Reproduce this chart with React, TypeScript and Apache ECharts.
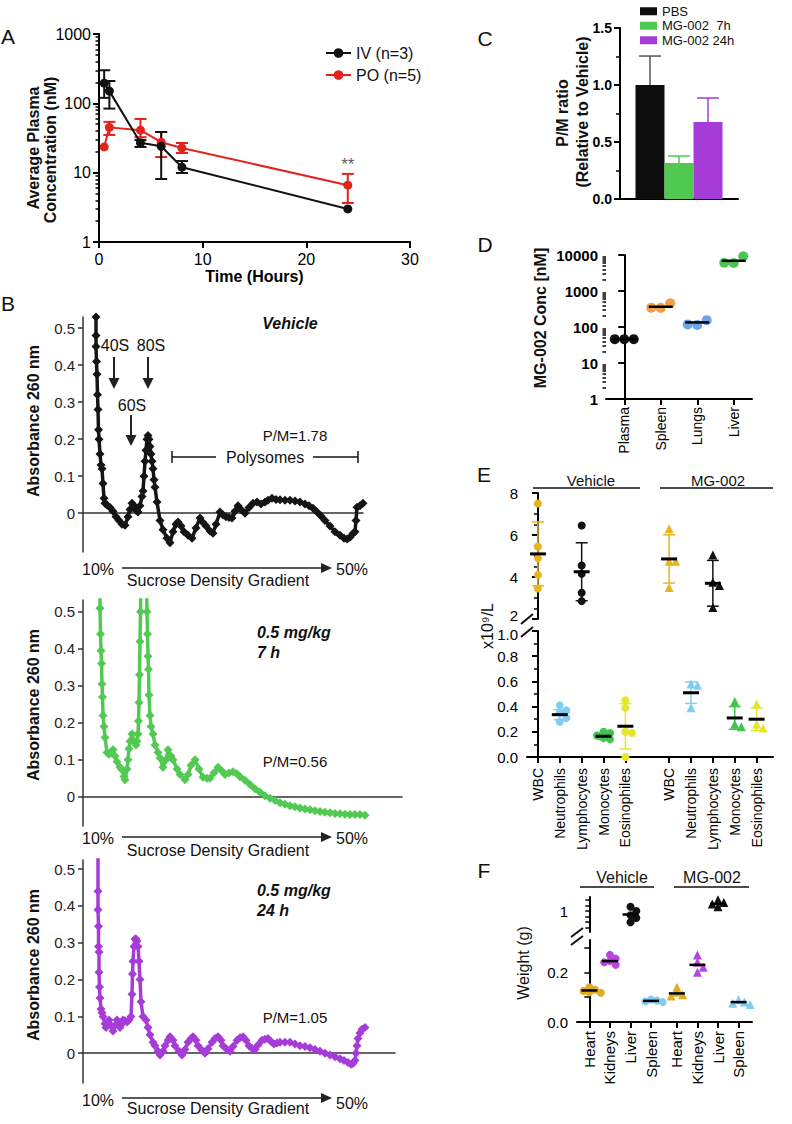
import React, { useEffect, useRef } from "react";
import * as echarts from "echarts";

const FONT = "'Liberation Sans', Arial, Helvetica, sans-serif";
const RED = "#e3231b";
const INK = "#111111";

// ---------- Panel A: plasma PK ----------
const pkTime = [0.5, 1, 4, 6, 8, 24];
const ivMean = [195, 150, 27, 24, 12, 3.0];
const ivLow = [120, 84, 23.5, 8.1, 9.9, 3.0];
const ivHigh = [300, 210, 29.5, 38.6, 14.7, 3.0];
const poMean = [23.5, 45, 41, 27.5, 22.7, 6.6];
const poLow = [23.5, 35, 32.5, 16.8, 19.2, 3.65];
const poHigh = [23.5, 54, 59.5, 38.6, 26.8, 9.6];
const poSignificance = ["", "", "", "", "", "**"];

// ---------- Panel C: P/M ratio ----------
const pmGroups = ["PBS", "MG-002  7h", "MG-002 24h"];
const pmValues = [1.0, 0.316, 0.675];
const pmUpper = [1.254, 0.377, 0.886];

// ---------- Panel D: tissue concentration ----------
const tissues = ["Plasma", "Spleen", "Lungs", "Liver"];
const tissueConc = [
  [46, 46, 46],
  [340, 455, 345],
  [114, 155, 118],
  [6000, 9200, 6100],
];
const tissueMean = [46, 365, 134, 6900];

// ---------- Panel E: blood counts ----------
const cbcCells = ["WBC", "Neutrophils", "Lymphocytes", "Monocytes", "Eosinophiles"];
const cbcGroups = ["Vehicle", "MG-002"];
const cbcVehicle = [
  [7.5, 5.45, 4.9, 4.1, 3.45],
  [0.41, 0.37, 0.35, 0.31, 0.28],
  [6.45, 4.55, 4.15, 3.25, 2.85],
  [0.2, 0.19, 0.17, 0.15, 0.14],
  [0.45, 0.39, 0.2, 0.19, 0.0],
];
const cbcVehicleMean = [5.1, 0.336, 4.25, 0.165, 0.244];
const cbcVehicleSd = [1.52, 0.04, 1.38, 0.025, 0.18];
const cbcMg = [
  [6.3, 4.75, 4.75, 3.5],
  [0.58, 0.57, 0.39],
  [5.05, 3.75, 3.6, 2.55],
  [0.44, 0.26, 0.24],
  [0.42, 0.26, 0.23],
];
const cbcMgMean = [4.86, 0.51, 3.7, 0.31, 0.3];
const cbcMgSd = [1.15, 0.085, 1.09, 0.09, 0.09];
const cbcUpperTicks = [2, 4, 6, 8];
const cbcLowerTicks = [0, 0.2, 0.4, 0.6, 0.8, 1.0];

// ---------- Panel F: organ weights ----------
const organs = ["Heart", "Kidneys", "Liver", "Spleen"];
const organVehicle = [
  [0.14, 0.13, 0.125, 0.12, 0.118],
  [0.27, 0.255, 0.245, 0.24, 0.23],
  [1.03, 1.0, 0.97, 0.95, 0.92],
  [0.09, 0.086, 0.083, 0.08],
];
const organVehicleMean = [0.127, 0.245, 0.975, 0.085];
const organMg = [
  [0.14, 0.12, 0.11, 0.105],
  [0.27, 0.24, 0.22, 0.2],
  [1.08, 1.06, 1.05, 1.03],
  [0.09, 0.08, 0.075, 0.07],
];
const organMgMean = [0.115, 0.23, 1.05, 0.08];

// ---------- Panel B: polysome profiles (position along gradient, A260) ----------
const profileVehicle = [
  [13, 0.53], [13, 0.48], [13, 0.45], [13.5, 0.41], [14, 0.375], [14.5, 0.32], [15, 0.28], [15.5, 0.225],
  [16, 0.2], [17, 0.16], [18, 0.13], [19, 0.12], [20, 0.08], [21, 0.04], [22, 0.027], [24, 0.022],
  [27, 0.015], [30, 0.005], [33, -0.01], [36, -0.02], [39, -0.03], [42, -0.033], [45, -0.01], [47, 0.01],
  [49, 0.027], [51, 0.02], [53, 0.008], [55, 0.003], [57, 0.02], [59, 0.045], [60, 0.06], [61, 0.1],
  [62, 0.14], [63, 0.17], [64, 0.2], [65, 0.21], [66, 0.2], [67, 0.18], [68, 0.16], [69, 0.14],
  [70, 0.12], [71, 0.09], [72, 0.07], [74, 0.03], [77, -0.02], [80, -0.045], [84, -0.068], [87, -0.08],
  [90, -0.05], [93, -0.03], [95, -0.024], [98, -0.035], [101, -0.05], [105, -0.06], [109, -0.068], [113, -0.04],
  [117, -0.013], [120, -0.025], [123, -0.035], [127, -0.048], [130, -0.054], [133, -0.03], [137, 0.003], [140, -0.005],
  [143, -0.01], [146, -0.012], [149, -0.013], [152, 0.005], [155, 0.02], [158, 0.01], [162, 0.0], [166, 0.015],
  [170, 0.027], [174, 0.03], [178, 0.025], [182, 0.03], [185, 0.035], [189, 0.04], [193, 0.037], [197, 0.036],
  [202, 0.035], [207, 0.035], [212, 0.033], [217, 0.03], [222, 0.025], [226, 0.02], [230, 0.013], [234, 0.003],
  [238, -0.008], [242, -0.02], [247, -0.035], [252, -0.05], [257, -0.06], [261, -0.068], [264, -0.07], [267, -0.065],
  [270, -0.055], [272, -0.05], [273, -0.02], [274, 0.016], [277, 0.02], [280, 0.027],
];
const profile7h = [
  [17, 0.62], [17, 0.51], [17.5, 0.44], [18, 0.395], [18.5, 0.36], [19, 0.305], [19.5, 0.27], [20, 0.22],
  [21, 0.19], [22, 0.16], [24, 0.12], [26, 0.115], [28, 0.12], [30, 0.127], [32, 0.11], [34, 0.095],
  [37, 0.08], [39, 0.073], [41, 0.055], [42, 0.046], [44, 0.075], [45, 0.1], [46, 0.13], [47, 0.15],
  [49, 0.17], [51, 0.15], [53, 0.14], [54, 0.15], [55, 0.17], [55.5, 0.205], [56, 0.255], [56.5, 0.33],
  [57, 0.42], [57.5, 0.5], [58, 0.62], [63, 0.62], [64, 0.5], [64.5, 0.44], [65, 0.38], [65.5, 0.345],
  [66, 0.275], [67, 0.22], [68, 0.19], [70, 0.17], [72, 0.14], [75, 0.12], [77, 0.105], [80, 0.08],
  [83, 0.1], [85, 0.127], [88, 0.11], [90, 0.1], [94, 0.075], [97, 0.06], [102, 0.046], [105, 0.06],
  [108, 0.085], [112, 0.1], [116, 0.075], [120, 0.053], [124, 0.05], [127, 0.05], [131, 0.065], [135, 0.08],
  [139, 0.07], [142, 0.06], [146, 0.064], [150, 0.068], [154, 0.062], [157, 0.054], [162, 0.045], [167, 0.033],
  [172, 0.022], [177, 0.012], [182, 0.003], [187, -0.004], [192, -0.01], [197, -0.016], [202, -0.02], [207, -0.024],
  [212, -0.027], [217, -0.03], [222, -0.033], [227, -0.035], [232, -0.038], [237, -0.04], [242, -0.042], [247, -0.043],
  [252, -0.045], [257, -0.046], [262, -0.047], [267, -0.048], [272, -0.048], [277, -0.048], [282, -0.05],
];
const profile24h = [
  [15, 0.6], [15, 0.44], [15, 0.39], [15.5, 0.345], [15.5, 0.29], [16, 0.275], [16, 0.22], [16.5, 0.18],
  [17, 0.15], [18, 0.12], [19, 0.11], [20, 0.1], [22, 0.08], [23, 0.07], [25, 0.085], [26, 0.09],
  [28, 0.075], [30, 0.06], [32, 0.075], [34, 0.09], [36, 0.08], [37, 0.07], [39, 0.08], [40, 0.09],
  [42, 0.088], [44, 0.085], [46, 0.09], [48, 0.1], [49, 0.16], [49.5, 0.215], [50, 0.25], [51, 0.29],
  [52, 0.31], [53, 0.31], [54, 0.305], [55, 0.29], [56, 0.25], [57, 0.2], [58, 0.14], [60, 0.1],
  [63, 0.09], [65, 0.07], [67, 0.05], [70, 0.03], [72, 0.02], [75, 0.005], [77, -0.005], [80, 0.005],
  [82, 0.02], [85, 0.035], [87, 0.045], [90, 0.035], [92, 0.02], [96, 0.005], [99, -0.005], [102, 0.01],
  [105, 0.03], [108, 0.04], [110, 0.045], [113, 0.035], [115, 0.02], [119, 0.008], [122, 0.0], [125, 0.012],
  [129, 0.03], [132, 0.04], [135, 0.045], [138, 0.035], [140, 0.02], [144, 0.01], [147, 0.005], [150, 0.018],
  [154, 0.035], [157, 0.042], [160, 0.045], [163, 0.035], [166, 0.02], [169, 0.013], [172, 0.01], [175, 0.022],
  [179, 0.035], [182, 0.038], [185, 0.04], [188, 0.032], [191, 0.025], [194, 0.028], [197, 0.03], [202, 0.03],
  [207, 0.03], [212, 0.025], [217, 0.02], [222, 0.018], [227, 0.015], [232, 0.01], [237, 0.005], [242, 0.0],
  [247, -0.005], [252, -0.01], [257, -0.015], [261, -0.02], [265, -0.025], [268, -0.03], [270, -0.028], [272, -0.02],
  [273, 0.0], [274, 0.02], [275, 0.04], [277, 0.055], [279, 0.065], [282, 0.07],
];
const absTicks = [0, 0.1, 0.2, 0.3, 0.4, 0.5];

// ---------- colours ----------
const pmColors = ["#0d0d0d", "#4fc94f", "#a63cd8"];
const pmErrColors = ["#555555", "#4fc94f", "#a63cd8"];
const tissueColors = ["#111111", "#f0a048", "#6ea4ee", "#4cc552"];
const cbcColors = ["#e8b520", "#7fcdf0", "#111111", "#3ec54e", "#e5e52c"];
const organColors = ["#e0ac24", "#b447dc", "#111111", "#7fcdf0"];

const lg = (v: number) => Math.log10(v);
const minorLog = (from: number, to: number) => {
  const r: number[] = [];
  for (let d = from; d < to; d++) for (let k = 2; k <= 9; k++) r.push(Math.log10(k) + d);
  return r;
};
const pow10Label = (v: number) => String(Math.round(Math.pow(10, v)));

function swarm(vals: number[], thr: number, step: number): number[] {
  const offs: number[] = [];
  vals.forEach((v, i) => {
    const cands = [0, 1, -1, 2, -2, 3, -3];
    for (const c of cands) {
      const o = c * step;
      const clash = offs.some((oj, j) => Math.abs(vals[j] - v) < thr && Math.abs(oj - o) < step * 0.9);
      if (!clash) {
        offs.push(o);
        return;
      }
    }
    offs.push(0);
  });
  return offs;
}

function errSeries(xi: number, yi: number, data: number[][], color: string, cap: number, width: number, pxOffset = 0, lowCap = true) {
  return {
    type: "custom",
    xAxisIndex: xi,
    yAxisIndex: yi,
    data: data.filter((d) => d[1] !== d[2]),
    z: 3,
    silent: true,
    renderItem: (params: any, api: any) => {
      const x = api.value(0);
      const a = api.coord([x, api.value(1)]);
      const b = api.coord([x, api.value(2)]);
      const X = a[0] + pxOffset;
      const st = { stroke: color, lineWidth: width };
      const children: any[] = [
        { type: "line", shape: { x1: X, y1: a[1], x2: X, y2: b[1] }, style: st },
        { type: "line", shape: { x1: X - cap, y1: b[1], x2: X + cap, y2: b[1] }, style: st },
      ];
      if (lowCap) children.push({ type: "line", shape: { x1: X - cap, y1: a[1], x2: X + cap, y2: a[1] }, style: st });
      return { type: "group", children };
    },
  };
}

function txt(text: string, x: number, y: number, style: any = {}, rotation = 0) {
  return {
    type: "text",
    x,
    y,
    rotation,
    z: 100,
    silent: true,
    style: { text, fontFamily: FONT, fontSize: 16, fill: "#111", align: "center", verticalAlign: "middle", ...style },
  };
}
function ln(x1: number, y1: number, x2: number, y2: number, w = 1.5, color = "#111") {
  return { type: "line", z: 100, silent: true, shape: { x1, y1, x2, y2 }, style: { stroke: color, lineWidth: w } };
}
function arrowDown(x: number, y1: number, y2: number) {
  return [
    ln(x, y1, x, y2 - 8, 2, "#222"),
    { type: "polygon", z: 100, silent: true, shape: { points: [[x - 5.5, y2 - 11], [x + 5.5, y2 - 11], [x, y2]] }, style: { fill: "#222" } },
  ];
}
function arrowRight(x1: number, x2: number, y: number) {
  return [
    ln(x1, y, x2 - 8, y, 1.5, "#222"),
    { type: "polygon", z: 100, silent: true, shape: { points: [[x2 - 11, y - 5], [x2 - 11, y + 5], [x2, y]] }, style: { fill: "#222" } },
  ];
}

function buildOption() {
  const grid = [
    { left: 99, top: 34, width: 311, height: 208 }, // 0 A
    { left: 620, top: 28, width: 118, height: 171 }, // 1 C
    { left: 606, top: 255, width: 146, height: 144 }, // 2 D
    { left: 527, top: 493, width: 246, height: 126 }, // 3 E upper
    { left: 527, top: 631, width: 246, height: 126 }, // 4 E lower
    { left: 577, top: 897, width: 175, height: 35 }, // 5 F upper
    { left: 577, top: 940, width: 175, height: 82 }, // 6 F lower
    { left: 83, top: 317, width: 280, height: 235 }, // 7 B vehicle
    { left: 83, top: 600, width: 319, height: 226 }, // 8 B 7h
    { left: 83, top: 860, width: 312, height: 223 }, // 9 B 24h
  ].map((g) => ({ ...g, containLabel: false, outerBoundsMode: "none" }));

  const line2 = { show: true, lineStyle: { color: "#000", width: 2 } };
  const tick = (len = 6, w = 2) => ({ show: true, length: len, lineStyle: { color: "#000", width: w } });
  const noSplit = { show: false };

  const cbcPos: number[] = [];
  const cbcNames: string[] = [];
  cbcGroups.forEach((g, gi) => cbcCells.forEach((c, ci) => { cbcPos.push(gi * (cbcCells.length + 1) + ci); cbcNames.push(c); }));
  const orgPos: number[] = [];
  const orgNames: string[] = [];
  cbcGroups.forEach((g, gi) => organs.forEach((o, oi) => { orgPos.push(gi * (organs.length + 0.25) + oi); orgNames.push(o); }));
  const nameAt = (pos: number[], names: string[]) => (v: number) => {
    const k = pos.findIndex((p) => Math.abs(p - v) < 1e-6);
    return k >= 0 ? names[k] : "";
  };

  const xAxis: any[] = [
    { // 0 A
      type: "value", gridIndex: 0, min: 0, max: 30, interval: 10, splitLine: noSplit,
      axisLine: line2, axisTick: tick(6), axisLabel: { color: "#000", fontSize: 16, fontFamily: FONT, margin: 9 },
      name: "Time (Hours)", nameLocation: "middle", nameGap: 26,
      nameTextStyle: { fontWeight: "bold", fontSize: 16, color: "#000", fontFamily: FONT },
    },
    { // 1 C
      type: "category", gridIndex: 1, data: [""], axisLine: line2, axisTick: { show: false }, axisLabel: { show: false },
    },
    { // 2 D category
      type: "category", gridIndex: 2, data: tissues, axisLine: line2, axisTick: { ...tick(6), alignWithLabel: true },
      axisLabel: { rotate: 90, color: "#000", fontSize: 14, fontFamily: FONT, margin: 8 },
    },
    { type: "value", gridIndex: 2, min: -0.5, max: 3.5, show: false }, // 3 D values
    { type: "value", gridIndex: 3, min: -0.5, max: 10.75, show: false }, // 4 E up
    { // 5 E low
      type: "value", gridIndex: 4, min: -0.5, max: 10.75, splitLine: noSplit, axisLine: line2,
      axisTick: { ...tick(6), customValues: cbcPos },
      axisLabel: { customValues: cbcPos, formatter: nameAt(cbcPos, cbcNames), rotate: 90, color: "#000", fontSize: 14, fontFamily: FONT, margin: 11 },
    },
    { type: "value", gridIndex: 5, min: -0.6, max: 7.9, show: false }, // 6 F up
    { // 7 F low
      type: "value", gridIndex: 6, min: -0.6, max: 7.9, splitLine: noSplit, axisLine: line2,
      axisTick: { ...tick(6), customValues: orgPos },
      axisLabel: { customValues: orgPos, formatter: nameAt(orgPos, orgNames), rotate: 90, color: "#000", fontSize: 15, fontFamily: FONT, margin: 9 },
    },
    ...[[7, 280], [8, 319], [9, 312]].map(([gi, mx]) => ({
      type: "value", gridIndex: gi, min: 0, max: mx, splitLine: noSplit,
      axisLine: { show: true, lineStyle: { color: "#333", width: 1.5 } }, axisTick: { show: false }, axisLabel: { show: false },
    })),
  ];

  const absAxis = (gi: number, mn: number, mx: number) => ({
    type: "value", gridIndex: gi, min: mn, max: mx, splitLine: noSplit,
    axisLine: { show: true, lineStyle: { color: "#333", width: 1.5 } },
    axisTick: { show: true, length: 5, customValues: absTicks, lineStyle: { color: "#333", width: 1.5 } },
    axisLabel: { customValues: absTicks, formatter: (v: number) => (Math.abs(v) < 1e-9 ? "0" : v.toFixed(1)), color: "#222", fontSize: 15, fontFamily: FONT, margin: 8 },
  });

  const yAxis: any[] = [
    { // 0 A main
      type: "value", gridIndex: 0, position: "left", min: 0, max: 3, interval: 1, splitLine: noSplit,
      axisLine: line2, axisTick: tick(6), axisLabel: { formatter: pow10Label, color: "#000", fontSize: 16, fontFamily: FONT, margin: 8 },
    },
    { // 1 A minor
      type: "value", gridIndex: 0, position: "left", min: 0, max: 3, splitLine: noSplit, axisLine: { show: false },
      axisTick: { show: true, length: 3.5, customValues: minorLog(0, 3), lineStyle: { color: "#000", width: 1.5 } }, axisLabel: { show: false },
    },
    { // 2 C
      type: "value", gridIndex: 1, min: 0, max: 1.5, interval: 0.5, splitLine: noSplit, axisLine: line2, axisTick: tick(6),
      minorTick: { show: true, splitNumber: 2, length: 4, lineStyle: { color: "#000", width: 1.5 } },
      axisLabel: { formatter: (v: number) => v.toFixed(1), fontWeight: "bold", color: "#000", fontSize: 14, fontFamily: FONT, margin: 8 },
    },
    { // 3 D main
      type: "value", gridIndex: 2, position: "left", min: 0, max: 4, interval: 1, splitLine: noSplit, axisLine: line2, axisTick: tick(6),
      axisLabel: { formatter: pow10Label, fontWeight: "bold", color: "#000", fontSize: 15, fontFamily: FONT, margin: 8 },
    },
    { // 4 D minor
      type: "value", gridIndex: 2, position: "left", min: 0, max: 4, splitLine: noSplit, axisLine: { show: false },
      axisTick: { show: true, length: 3.5, customValues: minorLog(0, 4), lineStyle: { color: "#000", width: 1.5 } }, axisLabel: { show: false },
    },
    { // 5 E up (label "2" drawn separately at the axis break)
      type: "value", gridIndex: 3, min: 2, max: 8, interval: 2, splitLine: noSplit, axisLine: line2, axisTick: tick(6),
      minorTick: { show: true, splitNumber: 4, length: 4, lineStyle: { color: "#000", width: 1.5 } },
      axisLabel: { customValues: cbcUpperTicks.slice(1), color: "#000", fontSize: 15, fontFamily: FONT, margin: 9 },
    },
    { // 6 E low (label "1.0" drawn separately at the axis break)
      type: "value", gridIndex: 4, min: 0, max: 1, interval: 0.2, splitLine: noSplit, axisLine: line2, axisTick: tick(6),
      minorTick: { show: true, splitNumber: 2, length: 4, lineStyle: { color: "#000", width: 1.5 } },
      axisLabel: { customValues: cbcLowerTicks.slice(0, -1), formatter: (v: number) => v.toFixed(1), color: "#000", fontSize: 15, fontFamily: FONT, margin: 9 },
    },
    { // 7 F up
      type: "value", gridIndex: 5, min: 0.85, max: 1.1, splitLine: noSplit, axisLine: line2,
      axisTick: { show: true, length: 4, customValues: [0.88, 0.92, 0.96, 1.0, 1.04, 1.08], lineStyle: { color: "#000", width: 1.5 } },
      axisLabel: { customValues: [1.0], formatter: () => "1", color: "#000", fontSize: 15, fontFamily: FONT, margin: 9 },
    },
    { // 8 F low
      type: "value", gridIndex: 6, min: 0, max: 0.33, splitLine: noSplit, axisLine: line2,
      axisTick: { show: true, length: 5, customValues: [0, 0.1, 0.2, 0.3], lineStyle: { color: "#000", width: 1.5 } },
      axisLabel: { customValues: [0, 0.2], formatter: (v: number) => v.toFixed(1), color: "#000", fontSize: 15, fontFamily: FONT, margin: 9 },
    },
    absAxis(7, -0.105, 0.53), // 9
    absAxis(8, -0.079, 0.532), // 10
    absAxis(9, -0.081, 0.525), // 11
  ];

  const series: any[] = [];

  // ---- A ----
  series.push({
    type: "line", name: "PO (n=5)", xAxisIndex: 0, yAxisIndex: 0, z: 4,
    data: pkTime.map((t, i) => [t, lg(poMean[i])]), symbol: "circle", symbolSize: 9,
    itemStyle: { color: RED }, lineStyle: { color: RED, width: 2 },
  });
  series.push({
    type: "line", name: "IV (n=3)", xAxisIndex: 0, yAxisIndex: 0, z: 5,
    data: pkTime.map((t, i) => [t, lg(ivMean[i])]), symbol: "circle", symbolSize: 9,
    itemStyle: { color: INK }, lineStyle: { color: INK, width: 2 },
  });
  series.push(errSeries(0, 0, pkTime.map((t, i) => [t, lg(poLow[i]), lg(poHigh[i])]), RED, 6, 2));
  series.push(errSeries(0, 0, pkTime.map((t, i) => [t, lg(ivLow[i]), lg(ivHigh[i])]), INK, 6, 2));
  series.push({
    type: "scatter", xAxisIndex: 0, yAxisIndex: 0, silent: true, symbolSize: 0, z: 6,
    itemStyle: { color: "rgba(0,0,0,0)" },
    data: pkTime
      .map((t, i) => ({ value: [t, lg(poHigh[i])], mark: poSignificance[i] }))
      .filter((d) => d.mark)
      .map((d) => ({ value: d.value, label: { formatter: d.mark } })),
    label: { show: true, position: "top", distance: 1, fontSize: 17, color: "#333", fontFamily: FONT },
  });

  // ---- C ----
  pmGroups.forEach((g, i) => {
    series.push({
      type: "bar", name: g, xAxisIndex: 1, yAxisIndex: 2, data: [pmValues[i]], barWidth: 29, barGap: "0%",
      itemStyle: { color: pmColors[i] },
    });
  });
  pmGroups.forEach((g, i) => {
    series.push(errSeries(1, 2, [[0, pmValues[i], pmUpper[i]]], pmErrColors[i], 11, 1.5, (i - 1) * 29, false));
  });

  // ---- D ----
  tissues.forEach((t, i) => {
    const lv = tissueConc[i].map(lg);
    const offs = swarm(lv, 0.2, 0.26);
    series.push({
      type: "scatter", xAxisIndex: 3, yAxisIndex: 3, symbolSize: 10, z: 3,
      itemStyle: { color: tissueColors[i], opacity: 1 },
      data: lv.map((v, j) => [i + offs[j], v]),
    });
    series.push({
      type: "scatter", xAxisIndex: 3, yAxisIndex: 3, symbol: "rect", symbolSize: [24, 2.5], z: 4,
      itemStyle: { color: "#000", opacity: 1 }, data: [[i, lg(tissueMean[i])]],
    });
  });

  // ---- E ----
  [cbcVehicle, cbcMg].forEach((grp, gi) => {
    const means = gi === 0 ? cbcVehicleMean : cbcMgMean;
    const sds = gi === 0 ? cbcVehicleSd : cbcMgSd;
    grp.forEach((vals, ci) => {
      const upper = ci === 0 || ci === 2;
      const xi = upper ? 4 : 5;
      const yi = upper ? 5 : 6;
      const pos = gi * (cbcCells.length + 1) + ci;
      const offs = swarm(vals, upper ? 0.35 : 0.04, 0.3);
      series.push(errSeries(xi, yi, [[pos, means[ci] - sds[ci], means[ci] + sds[ci]]], cbcColors[ci], 6, 1.5));
      series.push({
        type: "scatter", xAxisIndex: xi, yAxisIndex: yi, symbol: gi === 0 ? "circle" : "triangle", symbolSize: gi === 0 ? 8 : 9, z: 4,
        itemStyle: { color: cbcColors[ci], opacity: 1 }, data: vals.map((v, j) => [pos + offs[j], v]),
      });
      series.push({
        type: "scatter", xAxisIndex: xi, yAxisIndex: yi, symbol: "rect", symbolSize: [16, 3], z: 5,
        itemStyle: { color: "#000", opacity: 1 }, data: [[pos, means[ci]]],
      });
    });
  });

  // ---- F ----
  [organVehicle, organMg].forEach((grp, gi) => {
    const means = gi === 0 ? organVehicleMean : organMgMean;
    grp.forEach((vals, oi) => {
      const upper = oi === 2;
      const xi = upper ? 6 : 7;
      const yi = upper ? 7 : 8;
      const pos = gi * (organs.length + 0.25) + oi;
      const offs = swarm(vals, upper ? 0.035 : 0.02, 0.28);
      series.push({
        type: "scatter", xAxisIndex: xi, yAxisIndex: yi, symbol: gi === 0 ? "circle" : "triangle", symbolSize: gi === 0 ? 8 : 9, z: 4,
        itemStyle: { color: organColors[oi], opacity: 1 }, data: vals.map((v, j) => [pos + offs[j], v]),
      });
      series.push({
        type: "scatter", xAxisIndex: xi, yAxisIndex: yi, symbol: "rect", symbolSize: [16, 2.5], z: 5,
        itemStyle: { color: "#000", opacity: 1 }, data: [[pos, means[oi]]],
      });
    });
  });

  // ---- B ----
  [[profileVehicle, "#151515", 8, 9], [profile7h, "#52c952", 9, 10], [profile24h, "#a63cd8", 10, 11]].forEach(([data, color, xi, yi]: any) => {
    series.push({
      type: "line", xAxisIndex: xi, yAxisIndex: yi, data, symbol: "diamond", symbolSize: 9, showAllSymbol: true, clip: true,
      itemStyle: { color }, lineStyle: { color, width: 3.5, join: "round" }, z: 3,
    });
  });

  // ---- graphic annotations ----
  const g: any[] = [];
  const letter = { fontSize: 21, fill: "#111" };
  g.push(txt("A", 8, 36, letter), txt("B", 8, 303, letter), txt("C", 485, 38, letter), txt("D", 485, 244, letter), txt("E", 484, 474, letter), txt("F", 484, 870, letter));
  const bold16 = { fontWeight: "bold", fontSize: 16 };
  g.push(txt("Average Plasma", 33, 148, bold16, Math.PI / 2));
  g.push(txt("Concentration (nM)", 50, 150, bold16, Math.PI / 2));
  g.push(txt("P/M ratio", 562, 113, bold16, Math.PI / 2));
  g.push(txt("(Relative to Vehicle)", 582, 112, bold16, Math.PI / 2));
  g.push(txt("MG-002 Conc [nM]", 540, 318, bold16, Math.PI / 2));
  g.push(txt("x10\u2079/L", 487, 626, { fontSize: 16 }, Math.PI / 2));
  g.push(txt("Weight (g)", 523, 963, { fontSize: 16 }, Math.PI / 2));
  // E break labels (kept apart so they do not collide)
  g.push(txt(String(cbcUpperTicks[0]), 518, 615, { fontSize: 15, align: "right", lineHeight: 14, fill: "#000" }));
  g.push(txt(cbcLowerTicks[cbcLowerTicks.length - 1].toFixed(1), 518, 634, { fontSize: 15, align: "right", lineHeight: 14, fill: "#000" }));
  // E headers
  g.push(txt("Vehicle", 591, 480, { fontSize: 15 }), txt("MG-002", 718, 480, { fontSize: 15 }));
  g.push(ln(533, 488, 640, 488), ln(660, 488, 773, 488));
  g.push(ln(521, 624, 533, 614, 2), ln(521, 637, 533, 627, 2));
  // F headers
  g.push(txt("Vehicle", 622, 877, { fontSize: 16 }), txt("MG-002", 712, 877, { fontSize: 16 }));
  g.push(ln(580, 887, 654, 887), ln(674, 887, 749, 887));
  g.push(ln(571, 937, 583, 928, 2), ln(571, 945, 583, 936, 2));
  // B y names
  [421, 705, 965].forEach((cy) => g.push(txt("Absorbance 260 nm", 33, cy, bold16, Math.PI / 2)));
  // B vehicle annotations
  g.push(txt("Vehicle", 290, 323, { fontWeight: "bold", fontStyle: "italic", fontSize: 16 }));
  g.push(txt("40S", 115, 345), txt("80S", 151, 345), txt("60S", 132, 405));
  g.push(...arrowDown(114, 357, 389), ...arrowDown(148, 357, 389), ...arrowDown(131, 415, 446));
  g.push(txt("P/M=1.78", 295, 435, { fontSize: 15 }));
  g.push(txt("Polysomes", 265, 457));
  g.push(ln(172, 457, 216, 457), ln(313, 457, 358, 457), ln(172, 451, 172, 463), ln(358, 451, 358, 463));
  // B 7h / 24h
  const bi = { fontWeight: "bold", fontStyle: "italic", fontSize: 16, align: "left" };
  g.push(txt("0.5 mg/kg", 257, 632, bi), txt("7 h", 257, 652, bi), txt("P/M=0.56", 295, 761, { fontSize: 15 }));
  g.push(txt("0.5 mg/kg", 257, 890, bi), txt("24 h", 257, 910, bi), txt("P/M=1.05", 295, 1017, { fontSize: 15 }));
  // gradient captions
  [[569, 568, 569, 580], [838, 837, 838, 850], [1100, 1098, 1103, 1108]].forEach(([t10, ay, t50, ts]) => {
    g.push(txt("10%", 98, t10), txt("50%", 352, t50), ...arrowRight(122, 332, ay), txt("Sucrose Density Gradient", 218, ts));
  });

  return {
    animation: false,
    backgroundColor: "#ffffff",
    textStyle: { fontFamily: FONT },
    grid,
    xAxis,
    yAxis,
    legend: [
      {
        data: ["IV (n=3)", "PO (n=5)"], orient: "vertical", left: 320, top: 40, itemWidth: 25, itemHeight: 12, itemGap: 6,
        selectedMode: false, textStyle: { fontSize: 16, color: "#111", fontFamily: FONT },
      },
      {
        data: pmGroups, orient: "vertical", left: 635, top: -1, icon: "rect", itemWidth: 17, itemHeight: 8, itemGap: 0,
        selectedMode: false, textStyle: { fontSize: 13, color: "#111", fontFamily: FONT, lineHeight: 14.5 },
      },
    ],
    series,
    graphic: g,
  };
}

export default function App() {
  const ref = useRef<HTMLDivElement>(null);
  useEffect(() => {
    const chart = echarts.init(ref.current as HTMLDivElement, null, { renderer: "svg" });
    chart.setOption(buildOption() as any);
    return () => chart.dispose();
  }, []);
  return (
    <div
      ref={ref}
      style={{ position: "absolute", left: 0, top: 0, width: 792, height: 1124, background: "#fff" }}
    />
  );
}
